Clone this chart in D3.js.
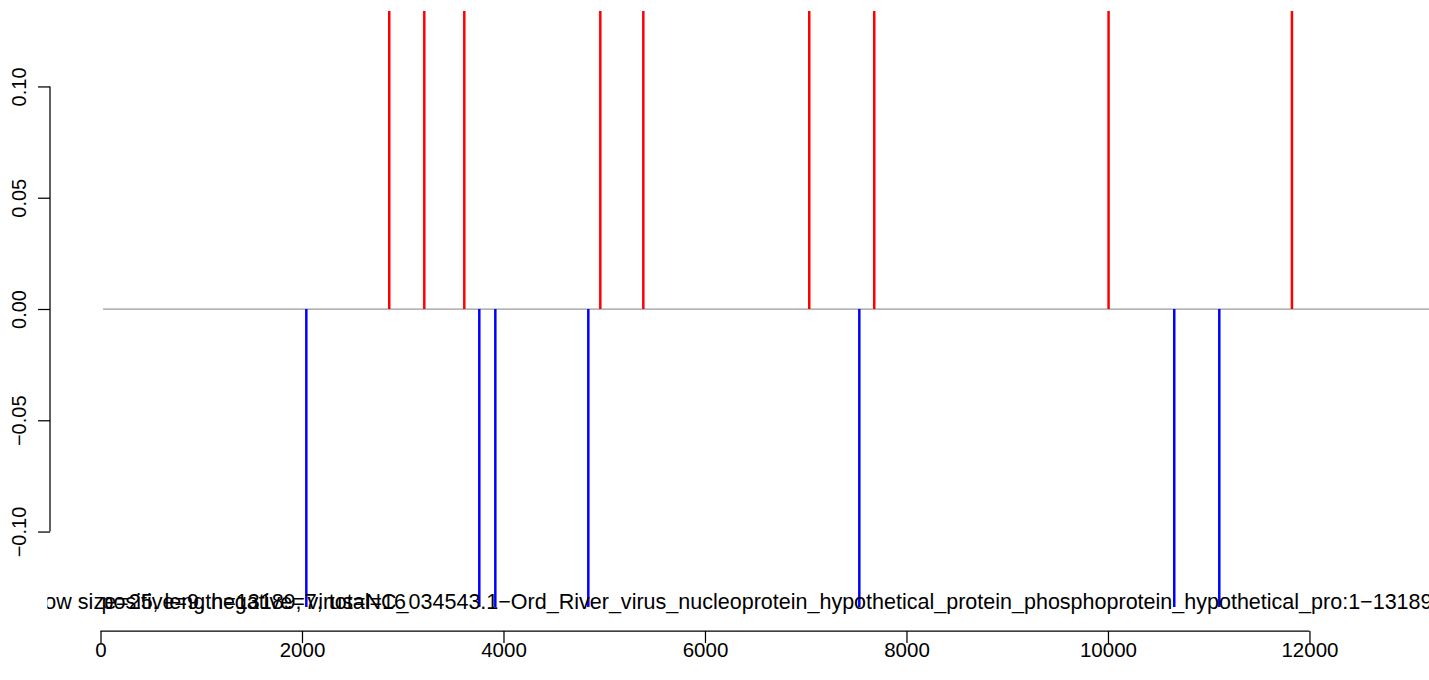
<!DOCTYPE html>
<html>
<head>
<meta charset="utf-8">
<script src="https://cdn.jsdelivr.net/npm/d3@7"></script>
<style>
  html, body { margin: 0; padding: 0; background: #fff; }
  svg { display: block; font-family: "Liberation Sans", Arial, Helvetica, sans-serif; }
</style>
</head>
<body>
<svg id="chart" width="1429" height="680"></svg>
<script>
// ---- data ----
const seqStart = 25;
const seqLength = 13189;
const positivePos = [2866, 3214, 3611, 4961, 5388, 7035, 7680, 10006, 11826];
const positiveVal = [1, 1, 1, 1, 1, 1, 1, 1, 1];
const negativePos = [2043, 3760, 3919, 4842, 7532, 10658, 11105];
const negativeVal = [-1, -1, -1, -1, -1, -1, -1];
const xTicks = [0, 2000, 4000, 6000, 8000, 10000, 12000];
const yTicks = [-0.10, -0.05, 0.00, 0.05, 0.10];
const labelHead = "window siz";
const labelTail = "e=25, length=13189, virus=NC_034543.1\u2212Ord_River_virus_nucleoprotein_hypothetical_protein_phosphoprotein_hypothetical_pro:1\u221213189";
const mainLabel = labelHead + labelTail;
const countLabel = "positive=9, negative=7, total=16";

// ---- layout ----
const svg = d3.select("#chart");
const plotLeft = 47.35, plotRight = 1482.4, plotTop = 11, plotBottom = 607;
const x = d3.scaleLinear().domain([-527.56, 13716.56]).range([plotLeft, plotRight]);
const y = d3.scaleLinear().domain([-0.1339, 0.1339]).range([plotBottom, plotTop]);

const defs = svg.append("defs");
defs.append("clipPath").attr("id", "lineclip")
  .append("rect").attr("x", plotLeft).attr("y", plotTop)
  .attr("width", plotRight - plotLeft).attr("height", plotBottom - plotTop);
defs.append("clipPath").attr("id", "textclip")
  .append("rect").attr("x", plotLeft).attr("y", 0)
  .attr("width", plotRight - plotLeft).attr("height", 680);

const plot = svg.append("g").attr("clip-path", "url(#lineclip)");

// zero line
plot.append("line")
  .attr("x1", x(seqStart)).attr("x2", x(seqLength))
  .attr("y1", y(0)).attr("y2", y(0))
  .attr("stroke", "#9a9a9a").attr("stroke-width", 1.25);

// positive spikes
plot.selectAll("line.pos").data(positivePos).join("line")
  .attr("class", "pos")
  .attr("x1", d => x(d)).attr("x2", d => x(d))
  .attr("y1", y(0)).attr("y2", (d, i) => y(positiveVal[i]))
  .attr("stroke", "#ff0000").attr("stroke-width", 2.5);

// negative spikes
plot.selectAll("line.neg").data(negativePos).join("line")
  .attr("class", "neg")
  .attr("x1", d => x(d)).attr("x2", d => x(d))
  .attr("y1", y(0)).attr("y2", (d, i) => y(negativeVal[i]))
  .attr("stroke", "#0000ff").attr("stroke-width", 2.5);

// texts (clipped at the plot's left edge, as in R)
const tg = svg.append("g").attr("clip-path", "url(#textclip)");
// fit the font size so that the tail of the label spans the same width as in the reference
const probe = tg.append("text").attr("font-size", 20).text(labelTail);
const tailW20 = probe.node().getComputedTextLength();
probe.remove();
const labelEnd = 1432.5, tailStart = 103;
const fs = 20 * (labelEnd - tailStart) / tailW20;
const textY = 609;
tg.append("text")
  .attr("x", labelEnd).attr("y", textY)
  .attr("text-anchor", "end")
  .attr("font-size", fs).attr("fill", "#000")
  .text(mainLabel);
tg.append("text")
  .attr("x", x(0) + 1).attr("y", textY)
  .attr("text-anchor", "start")
  .attr("font-size", fs).attr("fill", "#000")
  .text(countLabel);

// x axis
const xAxisY = 631;
const xAxis = d3.axisBottom(x).tickValues(xTicks).tickSize(12).tickPadding(10)
  .tickFormat(d3.format("d"));
const gx = svg.append("g").attr("transform", `translate(0,${xAxisY})`).call(xAxis);
gx.select(".domain").attr("d", `M${x(xTicks[0])},0H${x(xTicks[xTicks.length - 1])}`)
  .attr("stroke", "#000").attr("stroke-width", 1.25);
gx.selectAll(".tick line").attr("stroke", "#000").attr("stroke-width", 1.25);
gx.selectAll(".tick text").attr("font-size", 20.5).attr("fill", "#000")
  .attr("font-family", "Liberation Sans, Arial, sans-serif")
  .attr("dy", null).attr("y", 26);

// y axis
const yAxisX = 50;
const yAxis = d3.axisLeft(y).tickValues(yTicks).tickSize(12)
  .tickFormat(d => d3.format(".2f")(d).replace("-", "\u2212"));
const gy = svg.append("g").attr("transform", `translate(${yAxisX},0)`).call(yAxis);
gy.select(".domain").attr("d", `M0,${y(yTicks[0])}V${y(yTicks[yTicks.length - 1])}`)
  .attr("stroke", "#000").attr("stroke-width", 1.25);
gy.selectAll(".tick line").attr("stroke", "#000").attr("stroke-width", 1.25);
gy.selectAll(".tick text")
  .attr("font-size", 20).attr("fill", "#000")
  .attr("font-family", "Liberation Sans, Arial, sans-serif")
  .attr("x", null).attr("dy", null)
  .attr("text-anchor", "middle")
  .attr("transform", "translate(-24,0) rotate(-90)")
  .attr("y", 0);
</script>
</body>
</html>
